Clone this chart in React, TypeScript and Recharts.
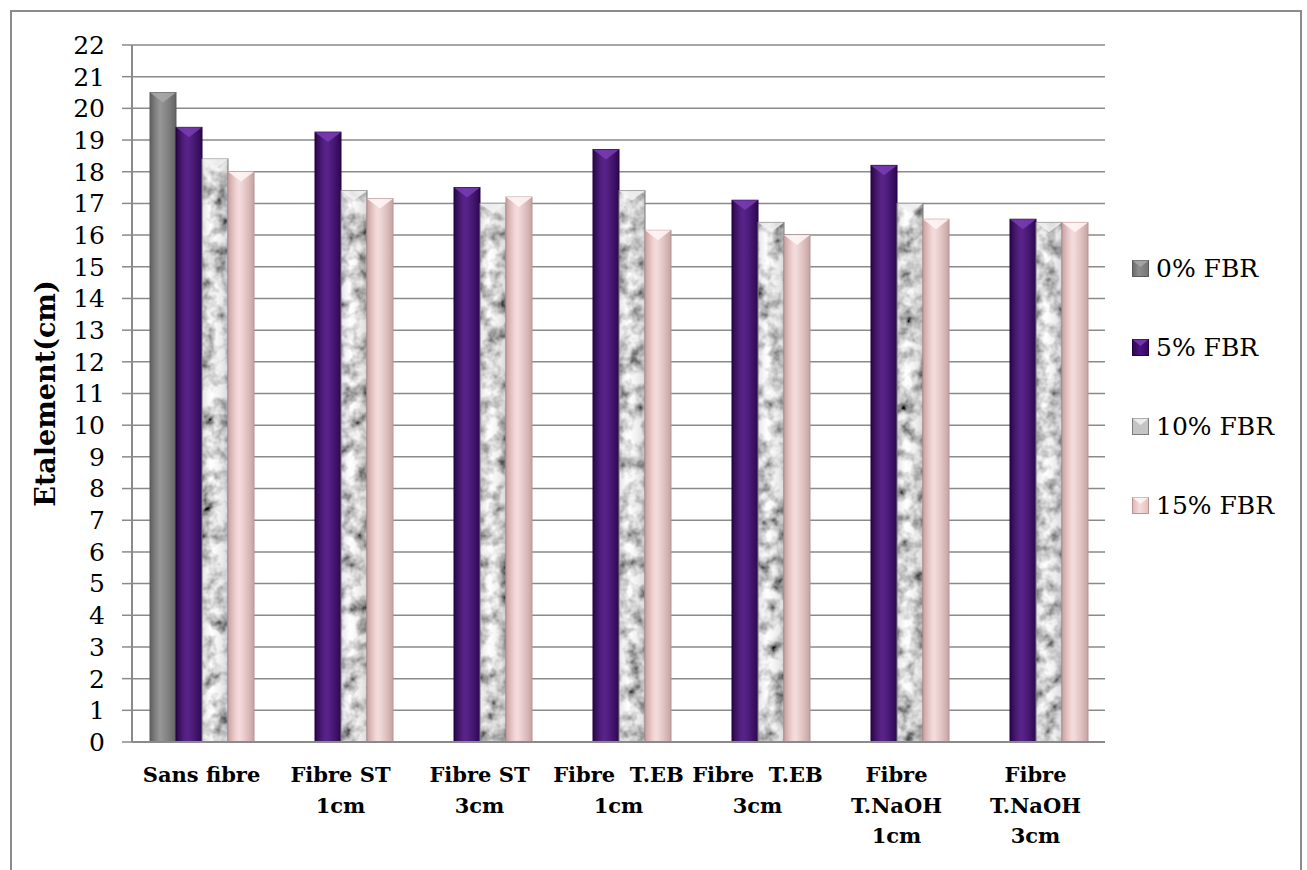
import React from 'react';
import { BarChart, Bar, XAxis, YAxis, CartesianGrid, Legend, Label } from 'recharts';

const categories = [
  'Sans fibre',
  'Fibre ST\n1cm',
  'Fibre ST\n3cm',
  'Fibre  T.EB\n1cm',
  'Fibre  T.EB\n3cm',
  'Fibre\nT.NaOH\n1cm',
  'Fibre\nT.NaOH\n3cm',
];
const fbr0 = [20.5, null, null, null, null, null, null];
const fbr5 = [19.4, 19.25, 17.5, 18.7, 17.1, 18.2, 16.5];
const fbr10 = [18.4, 17.4, 17.0, 17.4, 16.4, 17.0, 16.4];
const fbr15 = [18.0, 17.15, 17.2, 16.15, 16.0, 16.5, 16.4];
const seriesNames = ['0% FBR', '5% FBR', '10% FBR', '15% FBR'];
const yTicks = Array.from({ length: 23 }, (_, i) => i);

const data = categories.map((name, i) => ({
  name,
  [seriesNames[0]]: fbr0[i],
  [seriesNames[1]]: fbr5[i],
  [seriesNames[2]]: fbr10[i],
  [seriesNames[3]]: fbr15[i],
}));

const styles = [
  { fill: 'url(#gGray)', stroke: '#5c5c5c', top: '#a8a8a8', filter: undefined },
  { fill: 'url(#gPurple)', stroke: '#22003f', top: '#7a3cb4', filter: undefined },
  { fill: '#cfcfcf', stroke: '#7a7a7a', top: '#f2f2f2', filter: 'url(#marble)' },
  { fill: 'url(#gPink)', stroke: '#b89494', top: '#fff6f6', filter: undefined },
];

// only DejaVu Serif is picked up as a serif face here
const serif = 'DejaVu Serif';
const gridColor = '#8a8a8a';

const makeShape = (k: number) => (props: any) => {
  const { x, y, width, height } = props;
  if (height == null || height <= 0) return null;
  const s = styles[k];
  const t = Math.min(width * 0.38, height);
  return (
    <g>
      <rect x={x} y={y} width={width} height={height} fill={s.fill} filter={s.filter} />
      <rect x={x} y={y} width={width} height={height} fill="url(#gShade)" stroke={s.stroke} strokeWidth={1} />
      <polygon points={`${x},${y} ${x + width},${y} ${x + width / 2},${y + t}`} fill={s.top} opacity={0.85} />
    </g>
  );
};

const XTick = (props: any) => {
  const { x, y, payload } = props;
  const lines = String(payload.value).split('\n');
  return (
    <text x={x} y={y} textAnchor="middle" style={{ whiteSpace: 'pre', fontFamily: serif, fontWeight: 'bold', fontSize: 21, fill: '#000' }}>
      {lines.map((l, i) => (
        <tspan key={i} x={x} dy={i === 0 ? 40 : 30.5}>{l}</tspan>
      ))}
    </text>
  );
};

const LegendBox = () => (
  <div>
    {seriesNames.map((n, i) => (
      <div key={n} style={{ height: 79, display: 'flex', alignItems: 'center', fontFamily: serif, fontSize: 25, color: '#000' }}>
        <svg width={18} height={18} style={{ marginRight: 6 }}>
          <rect x={0.5} y={0.5} width={16} height={16} fill={styles[i].filter ? '#c4c4c4' : styles[i].fill} stroke={styles[i].stroke} />
          <polygon points="0.5,0.5 16.5,0.5 8.5,7" fill={styles[i].top} opacity={0.85} />
        </svg>
        <span>{n}</span>
      </div>
    ))}
  </div>
);

export default function App() {
  return (
    <div style={{ position: 'absolute', left: 0, top: 0, width: 1307, height: 870, overflow: 'hidden', background: '#fff' }}>
      <div style={{ position: 'absolute', left: 10, top: 10, width: 1288, height: 900, border: '2px solid #8c8c8c' }} />
      <BarChart
        width={1307}
        height={870}
        data={data}
        margin={{ top: 45, right: 202, left: 10, bottom: 0 }}
        barSize={26}
        barGap={0}
        style={{ position: 'absolute', left: 0, top: 0 }}
      >
        <defs>
          <linearGradient id="gGray" x1="0" y1="0" x2="1" y2="0">
            <stop offset="0" stopColor="#6a6a6a" />
            <stop offset="0.4" stopColor="#8e8e8e" />
            <stop offset="1" stopColor="#747474" />
          </linearGradient>
          <linearGradient id="gPurple" x1="0" y1="0" x2="1" y2="0">
            <stop offset="0" stopColor="#2e0552" />
            <stop offset="0.45" stopColor="#4c1182" />
            <stop offset="1" stopColor="#340760" />
          </linearGradient>
          <filter id="marble" x="0" y="0" width="1" height="1">
            <feTurbulence type="fractalNoise" baseFrequency="0.07" numOctaves={3} seed={4} result="n" />
            <feColorMatrix
              in="n"
              type="matrix"
              values="1.9 0 0 0 -0.25  1.9 0 0 0 -0.25  1.9 0 0 0 -0.25  0 0 0 0 1"
              result="g"
            />
            <feComposite in="g" in2="SourceGraphic" operator="in" />
          </filter>
          <linearGradient id="gPink" x1="0" y1="0" x2="1" y2="0">
            <stop offset="0" stopColor="#e2b5b5" />
            <stop offset="0.45" stopColor="#f6dcdc" />
            <stop offset="1" stopColor="#e8bebe" />
          </linearGradient>
          <linearGradient id="gShade" x1="0" y1="0" x2="1" y2="0">
            <stop offset="0" stopColor="#000" stopOpacity={0.12} />
            <stop offset="0.35" stopColor="#fff" stopOpacity={0.08} />
            <stop offset="1" stopColor="#000" stopOpacity={0.15} />
          </linearGradient>
        </defs>
        <CartesianGrid vertical={false} stroke={gridColor} strokeWidth={1.5} />
        <XAxis
          dataKey="name"
          height={128}
          interval={0}
          tickLine={false}
          tickSize={0}
          tickMargin={0}
          axisLine={{ stroke: gridColor, strokeWidth: 2 }}
          tick={<XTick />}
        />
        <YAxis
          width={122}
          domain={[0, 22]}
          ticks={yTicks}
          interval={0}
          tickSize={10}
          tickMargin={17}
          tickLine={{ stroke: gridColor, strokeWidth: 1.5 }}
          axisLine={{ stroke: gridColor, strokeWidth: 2 }}
          tick={{ fill: '#000', fontSize: 25, style: { fontFamily: serif } }}
        >
          <Label
            value="Etalement(cm)"
            angle={-90}
            position="center"
            dx={-26}
            style={{ fontFamily: serif, fontWeight: 'bold', fontSize: 27, fill: '#000' }}
          />
        </YAxis>
        <Legend
          layout="vertical"
          align="center"
          verticalAlign="middle"
          content={<LegendBox />}
          wrapperStyle={{ left: 1132, top: 229, width: 175 }}
        />
        {seriesNames.map((n, k) => (
          <Bar key={n} dataKey={n} fill={styles[k].fill} shape={makeShape(k)} isAnimationActive={false} />
        ))}
      </BarChart>
    </div>
  );
}
